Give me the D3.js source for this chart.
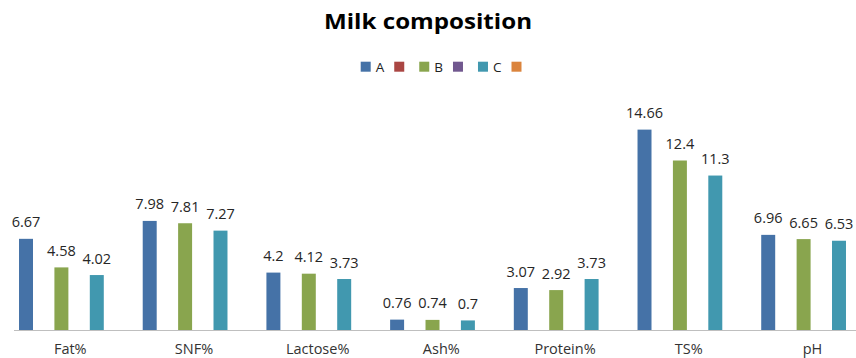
<!DOCTYPE html>
<html>
<head>
<meta charset="utf-8">
<script src="https://cdn.jsdelivr.net/npm/d3@7"></script>
<style>
  html, body { margin: 0; padding: 0; background: #fff; }
  svg { display: block; }
  text { font-family: "Open Sans", "DejaVu Sans", sans-serif; }
</style>
</head>
<body>
<svg id="chart" width="856" height="358"></svg>
<script>
// Milk composition measured for three samples
const categories = ["Fat%", "SNF%", "Lactose%", "Ash%", "Protein%", "TS%", "pH"];
const seriesNames = ["A", "", "B", "", "C", ""];
const seriesColors = ["#4572A7", "#AA4643", "#89A54E", "#71588F", "#4198AF", "#DB843D"];
const valuesA = [6.67, 7.98, 4.2, 0.76, 3.07, 14.66, 6.96];
const valuesB = [4.58, 7.81, 4.12, 0.74, 2.92, 12.4, 6.65];
const valuesC = [4.02, 7.27, 3.73, 0.7, 3.73, 11.3, 6.53];
const valueTexts = {
  A: ["6.67", "7.98", "4.2", "0.76", "3.07", "14.66", "6.96"],
  B: ["4.58", "7.81", "4.12", "0.74", "2.92", "12.4", "6.65"],
  C: ["4.02", "7.27", "3.73", "0.7", "3.73", "11.3", "6.53"]
};
const yTicks = [0, 2, 4, 6, 8, 10, 12, 14, 16];

// Six legend slots; the unnamed ones carry no data
const seriesData = [valuesA, [], valuesB, [], valuesC, []];
const seriesKeys = seriesNames.map((n, i) => "s" + i);

const svg = d3.select("#chart");
const W = 856;

const plot = { left: 8.4, right: 874.3, top: 111.3, bottom: 330 };

const x0 = d3.scaleBand()
  .domain(categories)
  .range([plot.left, plot.right])
  .padding(0);

const x1 = d3.scaleBand()
  .domain(seriesKeys)
  .range([0, x0.bandwidth()])
  .paddingInner(0.21)
  .paddingOuter(0.6);

const y = d3.scaleLinear()
  .domain([yTicks[0], yTicks[yTicks.length - 1]])
  .range([plot.bottom, plot.top]);

// Title
svg.append("text")
  .attr("x", W / 2)
  .attr("y", 29)
  .attr("text-anchor", "middle")
  .attr("font-size", 22)
  .attr("font-weight", "bold")
  .attr("fill", "#000")
  .attr("textLength", 208)
  .attr("lengthAdjust", "spacingAndGlyphs")
  .text("Milk composition");

// Legend
const legend = svg.append("g").attr("transform", "translate(360.7,61.7)");
let lx = 0;
seriesNames.forEach((name, i) => {
  const g = legend.append("g").attr("transform", `translate(${lx},0)`);
  g.append("rect")
    .attr("width", 10).attr("height", 10)
    .attr("fill", seriesColors[i]);
  let tw = 0;
  if (name) {
    const t = g.append("text")
      .attr("x", 15).attr("y", 9.8)
      .attr("font-size", 13.5)
      .attr("fill", "#222")
      .text(name);
    tw = t.node().getComputedTextLength();
  }
  lx += 25 + tw;
});

// Bars
const groups = svg.append("g")
  .selectAll("g")
  .data(categories)
  .join("g")
  .attr("transform", d => `translate(${x0(d)},0)`);

seriesData.forEach((vals, si) => {
  if (!vals.length) return;
  const key = seriesKeys[si];
  const name = seriesNames[si];
  groups.append("rect")
    .attr("x", x1(key))
    .attr("width", x1.bandwidth())
    .attr("y", (c, ci) => y(vals[ci]))
    .attr("height", (c, ci) => y(0) - y(vals[ci]))
    .attr("fill", seriesColors[si]);
  groups.append("text")
    .attr("x", x1(key) + x1.bandwidth() / 2)
    .attr("y", (c, ci) => y(vals[ci]) - 11.5)
    .attr("text-anchor", "middle")
    .attr("font-size", 14.5)
    .attr("fill", "#262626")
    .text((c, ci) => valueTexts[name][ci]);
});

// Category axis
svg.append("line")
  .attr("x1", 14).attr("x2", W)
  .attr("y1", y(0) + 0.5).attr("y2", y(0) + 0.5)
  .attr("stroke", "#BFBFBF")
  .attr("stroke-width", 1);

const xAxis = svg.append("g")
  .attr("transform", `translate(0,${y(0)})`)
  .call(d3.axisBottom(x0).tickSize(0).tickPadding(14));
xAxis.select(".domain").remove();
xAxis.selectAll("text")
  .attr("font-family", "\"Open Sans\", \"DejaVu Sans\", sans-serif")
  .attr("font-size", 14.5)
  .attr("fill", "#333");
</script>
</body>
</html>
